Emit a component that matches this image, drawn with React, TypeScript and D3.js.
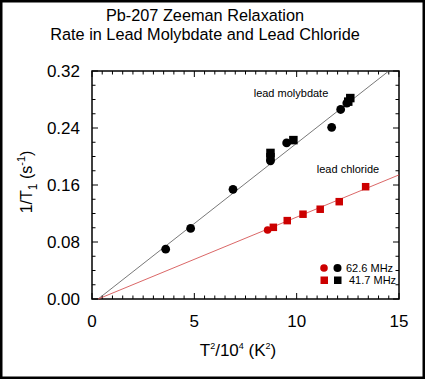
import React from "react";
import * as d3 from "d3";

const titleLines = ["Pb-207 Zeeman Relaxation", "Rate in Lead Molybdate and Lead Chloride"];
const xTicks = [0, 5, 10, 15];
const yTicks = [0, 0.08, 0.16, 0.24, 0.32];

// lead molybdate, 62.6 MHz (circles)
const molyCircX = [3.6, 4.82, 6.89, 8.72, 9.51, 11.71, 12.15, 12.45];
const molyCircY = [0.070, 0.099, 0.154, 0.194, 0.219, 0.241, 0.266, 0.275];
// lead molybdate, 41.7 MHz (squares)
const molySqX = [8.72, 8.72, 9.84, 12.52, 12.62];
const molySqY = [0.199, 0.205, 0.223, 0.277, 0.282];
// lead chloride, 62.6 MHz (circles)
const chlCircX = [8.58];
const chlCircY = [0.0968];
// lead chloride, 41.7 MHz (squares)
const chlSqX = [8.86, 9.54, 10.31, 11.15, 12.08, 13.37];
const chlSqY = [0.1006, 0.110, 0.119, 0.126, 0.1366, 0.1576];
// fitted lines (x values, y values)
const molyFitX = [0.3, 14.5];
const molyFitY = [0, 0.32];
const chlFitX = [0.3, 15];
const chlFitY = [0, 0.1742];

const RED = "#cc0000";
const FONT = "Arial, 'Liberation Sans', sans-serif";

export default function App() {
  const W = 425, H = 379;
  const L = 92, R = 399, T = 71, B = 299;
  const x = d3.scaleLinear().domain([0, 15]).range([L, R]);
  const y = d3.scaleLinear().domain([0, 0.32]).range([B, T]);
  const line = d3.line<[number, number]>().x(d => x(d[0])).y(d => y(d[1]));

  const xMinor = d3.range(0, 15.001, 0.5);
  const yMinor = d3.range(0, 0.3201, 0.02);
  const isMajX = (v: number) => Math.abs(v / 5 - Math.round(v / 5)) < 1e-6;
  const isMajY = (v: number) => Math.abs(v / 0.08 - Math.round(v / 0.08)) < 1e-6;

  const circles = (xs: number[], ys: number[], r: number, fill: string) =>
    xs.map((v, i) => <circle key={i} cx={x(v)} cy={y(ys[i])} r={r} fill={fill} />);
  const squares = (xs: number[], ys: number[], s: number, fill: string) =>
    xs.map((v, i) => <rect key={i} x={x(v) - s / 2} y={y(ys[i]) - s / 2} width={s} height={s} fill={fill} />);

  return (
    <svg width={W} height={H} style={{ position: "absolute", left: 0, top: 0, background: "#fff" }} fontFamily={FONT}>
      <rect x={1.25} y={1.25} width={W - 2.5} height={H - 2.5} fill="#fff" stroke="#000" strokeWidth={2.5} />
      {titleLines.map((t, i) => (
        <text key={i} x={205} y={21 + i * 19} textAnchor="middle" fontSize={16.3}>{t}</text>
      ))}
      {/* ticks */}
      <g stroke="#000" strokeWidth={1}>
        {xMinor.map((v, i) => {
          const len = isMajX(v) ? 6 : 3.5;
          return (
            <g key={i}>
              <line x1={x(v)} x2={x(v)} y1={B} y2={B - len} />
              <line x1={x(v)} x2={x(v)} y1={T} y2={T + len} />
            </g>
          );
        })}
        {yMinor.map((v, i) => {
          const len = isMajY(v) ? 6 : 3.5;
          return (
            <g key={i}>
              <line x1={L} x2={L + len} y1={y(v)} y2={y(v)} />
              <line x1={R} x2={R - len} y1={y(v)} y2={y(v)} />
            </g>
          );
        })}
      </g>
      <rect x={L} y={T} width={R - L} height={B - T} fill="none" stroke="#000" strokeWidth={1.5} />
      {xTicks.map((v, i) => (
        <text key={i} x={x(v)} y={B + 28} textAnchor="middle" fontSize={17}>{v}</text>
      ))}
      {yTicks.map((v, i) => (
        <text key={i} x={L - 12} y={y(v) + 6} textAnchor="end" fontSize={17}>{v.toFixed(2)}</text>
      ))}
      {/* axis titles */}
      <text x={238} y={356} textAnchor="middle" fontSize={17}>
        T<tspan fontSize={9} dy={-7}>2</tspan><tspan dy={7}>/10</tspan><tspan fontSize={9} dy={-7}>4</tspan><tspan dy={7}> (K</tspan><tspan fontSize={9} dy={-7}>2</tspan><tspan dy={7}>)</tspan>
      </text>
      <text transform={`translate(32,182) rotate(-90)`} textAnchor="middle" fontSize={16}>
        1/T<tspan fontSize={12} dy={5}>1</tspan><tspan dy={-5}> (s</tspan><tspan fontSize={11} dy={-7}>-1</tspan><tspan dy={7}>)</tspan>
      </text>
      {/* fit lines */}
      <path d={line(molyFitX.map((v, i) => [v, molyFitY[i]]) as any) || ""} stroke="#555" strokeWidth={0.8} fill="none" />
      <path d={line(chlFitX.map((v, i) => [v, chlFitY[i]]) as any) || ""} stroke="#d04040" strokeWidth={0.8} fill="none" />
      {/* points */}
      {circles(molyCircX, molyCircY, 4.4, "#000")}
      {squares(molySqX, molySqY, 8.5, "#000")}
      {circles(chlCircX, chlCircY, 3.8, RED)}
      {squares(chlSqX, chlSqY, 7.5, RED)}
      {/* labels */}
      <text x={291} y={97} textAnchor="middle" fontSize={11}>lead molybdate</text>
      <text x={348} y={173} textAnchor="middle" fontSize={11}>lead chloride</text>
      {/* legend */}
      <circle cx={324} cy={268} r={3.8} fill={RED} />
      <circle cx={337.5} cy={268} r={4} fill="#000" />
      <text x={346} y={272} fontSize={11}>62.6 MHz</text>
      <rect x={320.5} y={276.5} width={7.5} height={7.5} fill={RED} />
      <rect x={334} y={276.5} width={7.5} height={7.5} fill="#000" />
      <text x={349} y={284} fontSize={11}>41.7 MHz</text>
    </svg>
  );
}
